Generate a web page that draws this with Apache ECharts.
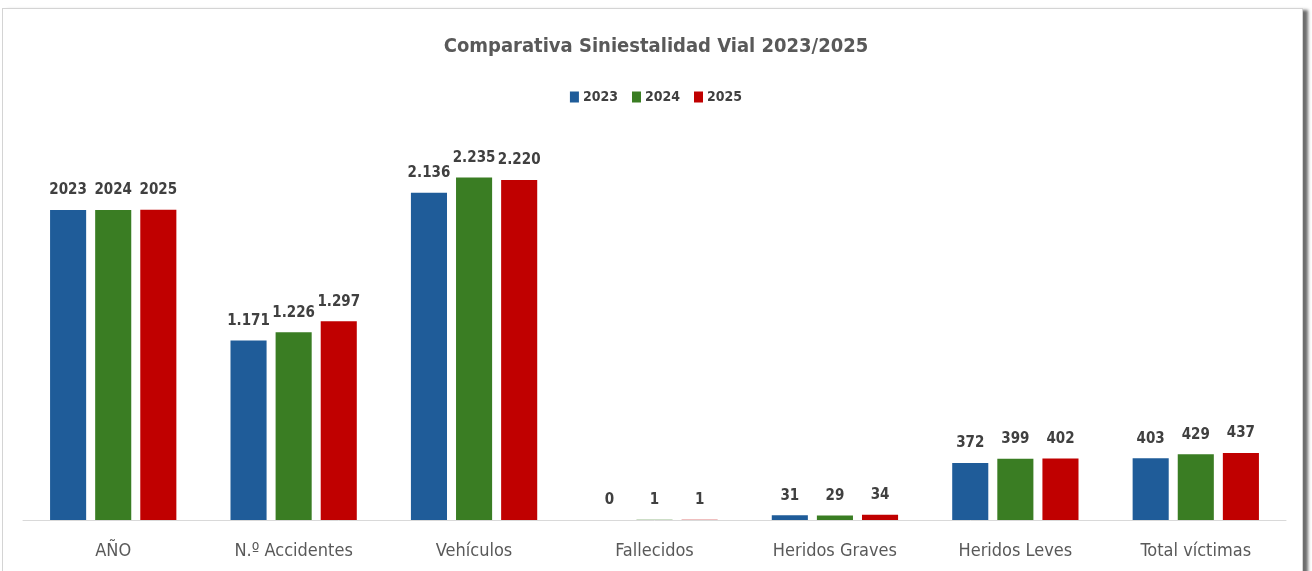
<!DOCTYPE html>
<html>
<head>
<meta charset="utf-8">
<script src="https://cdn.jsdelivr.net/npm/echarts@6/dist/echarts.min.js"></script>
<style>
  html, body { margin: 0; padding: 0; background: #ffffff; }
  #frame {
    position: absolute; left: 2px; top: 8px; width: 1299px; height: 600px;
    border: 1px solid #d4d4d4; background: #ffffff;
    box-shadow: 5px 2px 3px rgba(60,60,60,0.75);
  }
  #chart { position: absolute; left: 0; top: 0; width: 1312px; height: 571px; }
</style>
</head>
<body>
<div id="frame"></div>
<div id="chart"></div>
<script>
// Road accident comparison, 2023 vs 2024 vs 2025
const categories = ['AÑO', 'N.º Accidentes', 'Vehículos', 'Fallecidos', 'Heridos Graves', 'Heridos Leves', 'Total víctimas'];
const years = ['2023', '2024', '2025'];
const values2023 = [2023, 1171, 2136, 0, 31, 372, 403];
const values2024 = [2024, 1226, 2235, 1, 29, 399, 429];
const values2025 = [2025, 1297, 2220, 1, 34, 402, 437];
const colors = ['#1f5c99', '#3a7d23', '#c00000'];

const FONT = '"DejaVu Sans Condensed", "Liberation Sans Narrow", sans-serif';

// Spanish thousands separator: 1.171 (the year row is printed as-is)
function fmt(v, isYearRow) {
  if (isYearRow) return String(v);
  return String(v).replace(/\B(?=(\d{3})+(?!\d))/g, '.');
}

const chart = echarts.init(document.getElementById('chart'), null, { renderer: 'canvas' });

const seriesData = [values2023, values2024, values2025];
const series = seriesData.map((vals, i) => ({
  name: years[i],
  type: 'bar',
  data: vals,
  barGap: '25%',
  barCategoryGap: '30%',
  itemStyle: { color: colors[i] },
  label: {
    show: true,
    position: 'top',
    distance: 12,
    color: '#404040',
    fontFamily: FONT,
    fontWeight: 'bold',
    fontSize: 15,
    formatter: p => fmt(p.value, p.dataIndex === 0)
  }
}));

chart.setOption({
  backgroundColor: 'transparent',
  animation: false,
  title: {
    text: 'Comparativa Siniestalidad Vial 2023/2025',
    left: 'center',
    top: 32,
    textStyle: { color: '#595959', fontFamily: FONT, fontWeight: 'bold', fontSize: 20 }
  },
  legend: {
    data: years,
    top: 85,
    left: 'center',
    itemWidth: 9,
    itemHeight: 11,
    itemGap: 14,
    icon: 'rect',
    textStyle: { color: '#404040', fontFamily: FONT, fontWeight: 'bold', fontSize: 14, padding: [0, 0, 0, -1] }
  },
  grid: { left: 23, right: 26, top: 137, bottom: 51, containLabel: false },
  xAxis: {
    type: 'category',
    data: categories,
    axisLine: { lineStyle: { color: '#d9d9d9', width: 1 } },
    axisTick: { show: false },
    axisLabel: { color: '#595959', fontFamily: FONT, fontSize: 18, margin: 22 }
  },
  yAxis: {
    type: 'value',
    min: 0,
    max: 2500,
    show: false,
    splitLine: { show: false }
  },
  series: series
});
</script>
</body>
</html>
